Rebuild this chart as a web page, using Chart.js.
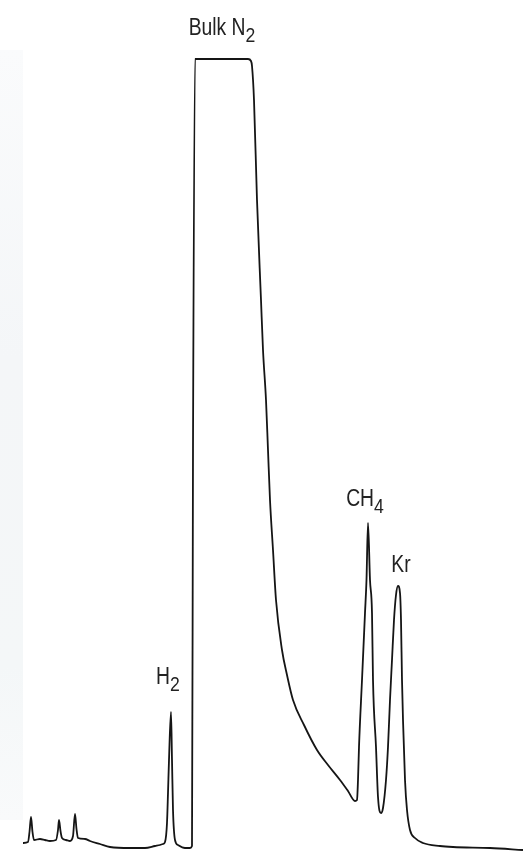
<!DOCTYPE html>
<html>
<head>
<meta charset="utf-8">
<script src="https://cdn.jsdelivr.net/npm/chart.js@4"></script>
<style>
  html, body { margin: 0; padding: 0; background: #fff; }
  #wrap { position: relative; width: 523px; height: 852px; }
  #band {
    position: absolute; left: 0; top: 50px; width: 23px; height: 770px;
    background: linear-gradient(to bottom, #fafbfc, #f4f6f8 40%, #f4f7f8 80%, #f9fafb);
  }
  #chromatogram { position: absolute; left: 0; top: 0; }
</style>
</head>
<body>
<div id="wrap">
  <div id="band"></div>
  <canvas id="chromatogram" width="523" height="852"></canvas>
</div>
<script>
// retention time (min) and detector signal (relative units)
const times = [
  0.46, 0.56, 0.59, 0.62, 0.65, 0.68, 0.80, 0.90, 1.00, 1.12, 1.16, 1.18, 1.21, 1.24,
  1.32, 1.40, 1.46, 1.50, 1.53, 1.56, 1.70, 1.80, 2.00, 2.20, 2.60, 2.90, 3.10, 3.20,
  3.26, 3.30, 3.34, 3.36, 3.38, 3.42, 3.44, 3.46, 3.50, 3.56, 3.70, 3.80, 3.84, 3.86,
  3.90, 4.96, 5.02, 5.04, 5.08, 5.14, 5.22, 5.26, 5.32, 5.36, 5.40, 5.46, 5.52, 5.64,
  5.74, 5.86, 6.08, 6.34, 6.56, 6.80, 6.96, 7.10, 7.14, 7.16, 7.18, 7.24, 7.30, 7.33,
  7.36, 7.40, 7.44, 7.46, 7.52, 7.56, 7.62, 7.66, 7.72, 7.76, 7.80, 7.84, 7.88, 7.92,
  7.96, 8.00, 8.02, 8.04, 8.06, 8.10, 8.14, 8.20, 8.30, 8.46, 8.80, 9.06, 9.80, 10.46
];
const signal = [
  9, 10, 20, 35, 20, 12, 13, 12, 11, 12, 22, 32, 21, 14,
  12, 11, 16, 38, 23, 14, 13, 11, 8, 5, 4, 4, 6, 7,
  8, 10, 29, 59, 92, 140, 92, 42, 12, 7, 4, 4, 6, 402,
  793, 793, 791, 786, 752, 652, 552, 502, 452, 402, 352, 302, 252, 202,
  177, 152, 127, 102, 87, 72, 61, 51, 52, 72, 105, 172, 239, 272,
  329, 272, 239, 172, 105, 55, 39, 44, 72, 105, 152, 192, 232, 257,
  266, 259, 232, 172, 132, 72, 42, 22, 14, 9, 6, 5, 4, 2
];

// peak labels
const peakNames = ['Bulk N', 'H', 'CH', 'Kr'];
const peakSubs = ['2', '2', '4', ''];
const peakTimes = [4.44, 3.42, 7.36, 7.96];
const peakHeights = [793, 140, 329, 266];

// per-label nudges (px): horizontal shift and gap above the peak
const labelNudge = [
  { dx: 0, gap: 24 },
  { dx: -3, gap: 28 },
  { dx: -3, gap: 17 },
  { dx: 3, gap: 14 }
];

const peakLabelPlugin = {
  id: 'peakLabels',
  afterDatasetsDraw(chart) {
    const { ctx, scales } = chart;
    const size = 23;
    const subSize = 21;
    const squeeze = 0.84;
    const family = '"Liberation Sans", Arial, sans-serif';
    ctx.save();
    ctx.fillStyle = '#222';
    ctx.textBaseline = 'alphabetic';
    peakNames.forEach((name, i) => {
      const nudge = labelNudge[i];
      const cx = scales.x.getPixelForValue(peakTimes[i]) + nudge.dx;
      const by = scales.y.getPixelForValue(peakHeights[i]) - nudge.gap;
      ctx.font = size + 'px ' + family;
      const w1 = ctx.measureText(name).width;
      ctx.font = subSize + 'px ' + family;
      const w2 = peakSubs[i] ? ctx.measureText(peakSubs[i]).width : 0;
      const total = (w1 + w2) * squeeze;
      ctx.save();
      ctx.translate(cx - total / 2, by);
      ctx.scale(squeeze, 1);
      ctx.textAlign = 'left';
      ctx.font = size + 'px ' + family;
      ctx.fillText(name, 0, 0);
      if (peakSubs[i]) {
        ctx.font = subSize + 'px ' + family;
        ctx.fillText(peakSubs[i], w1, 7);
      }
      ctx.restore();
    });
    ctx.restore();
  }
};

new Chart(document.getElementById('chromatogram'), {
  type: 'line',
  data: {
    datasets: [{
      data: times.map((t, i) => ({ x: t, y: signal[i] })),
      borderColor: '#151515',
      borderWidth: 1.8,
      pointRadius: 0,
      fill: false,
      cubicInterpolationMode: 'monotone'
    }]
  },
  options: {
    responsive: false,
    animation: false,
    layout: { padding: 0 },
    plugins: {
      legend: { display: false },
      tooltip: { enabled: false }
    },
    scales: {
      x: { type: 'linear', min: 0, max: 10.46, display: false },
      y: { min: 0, max: 852, display: false }
    }
  },
  plugins: [peakLabelPlugin]
});
</script>
</body>
</html>
